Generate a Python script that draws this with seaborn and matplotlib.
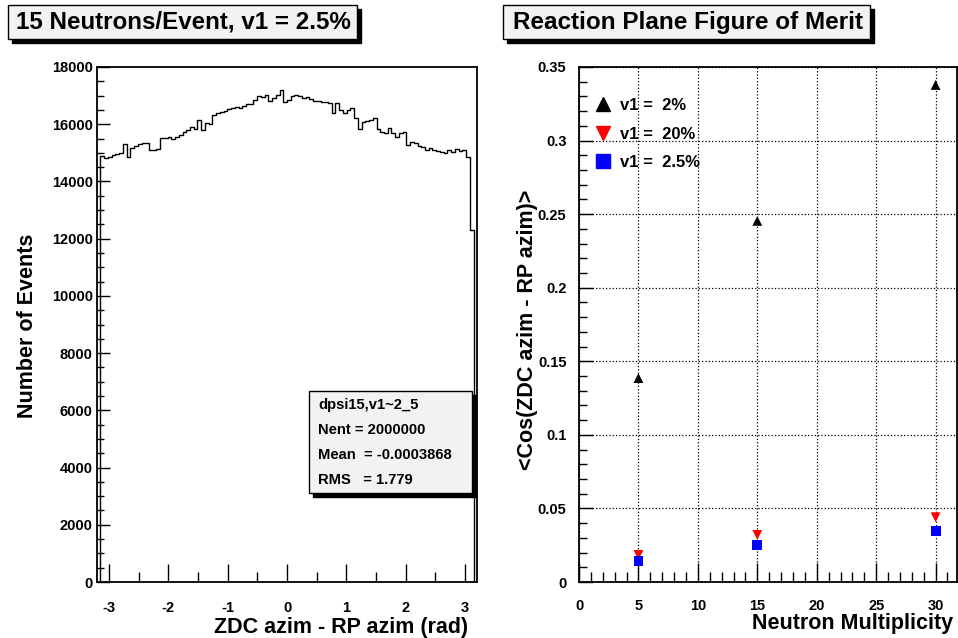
import numpy as np
import pandas as pd
import matplotlib
matplotlib.use("Agg")
import matplotlib.pyplot as plt
from matplotlib.patches import Rectangle
from matplotlib.lines import Line2D
from matplotlib.ticker import MultipleLocator, FuncFormatter
import seaborn as sns

# left pad: 100 bins over -pi..pi, contents
counts = [14890, 14810, 14850, 14920, 14950, 15000, 15310, 14850, 15170, 15250,
          15310, 15360, 15340, 15100, 15100, 15120, 15510, 15520, 15560, 15500,
          15560, 15620, 15740, 15800, 15910, 15820, 16150, 15800, 16030, 16020,
          16320, 16380, 16430, 16460, 16540, 16570, 16610, 16580, 16640, 16700,
          16690, 16850, 17000, 16940, 17020, 16820, 16900, 17020, 17190, 16790,
          16850, 16990, 17030, 16990, 16900, 16950, 16870, 16820, 16800, 16780,
          16760, 16740, 16380, 16740, 16500, 16380, 16500, 16560, 16210, 15820,
          16090, 16120, 16150, 16210, 15820, 15740, 15680, 15860, 15680, 15560,
          15680, 15720, 15270, 15390, 15330, 15250, 15220, 15100, 15160, 15100,
          15060, 15040, 14980, 15100, 15040, 15120, 15080, 15100, 14870, 12300]
stats_lines = ["dpsi15,v1~2_5", "Nent = 2000000", "Mean  = -0.0003868", "RMS   = 1.779"]

# right pad: figure of merit vs neutron multiplicity
mult = [5, 15, 30]
fom_v1_2 = [0.1386, 0.2454, 0.3378]
fom_v1_20 = [0.0184, 0.0320, 0.0440]
fom_v1_25 = [0.0143, 0.0252, 0.0347]
series_labels = ["v1 =  2%", "v1 =  20%", "v1 =  2.5%"]

sns.set_theme(style="white", rc={"axes.edgecolor": "black", "xtick.color": "black",
                                 "ytick.color": "black", "text.color": "black",
                                 "axes.unicode_minus": False})
plt.rcParams['font.family'] = ['Liberation Sans', 'DejaVu Sans']
plt.rcParams['font.weight'] = 'bold'

W, H = 958, 638
fig = plt.figure(figsize=(W / 100, H / 100), dpi=100)


def rect(x0, y0, x1, y1):
    # pixel box (y from top) -> figure fraction [l, b, w, h]
    return [x0 / W, 1 - y1 / H, (x1 - x0) / W, (y1 - y0) / H]


def fx(x):
    return x / W


def fy(y):
    return 1 - y / H


def shadow_box(x0, y0, x1, y1, off=4):
    fig.patches.append(Rectangle((fx(x0 + off), fy(y1 + off)), (x1 - x0) / W, (y1 - y0) / H,
                                 transform=fig.transFigure, facecolor='black', edgecolor='black', zorder=5))
    fig.patches.append(Rectangle((fx(x0), fy(y1)), (x1 - x0) / W, (y1 - y0) / H,
                                 transform=fig.transFigure, facecolor='#f2f2f2', edgecolor='black',
                                 linewidth=1, zorder=6))


ax1 = fig.add_axes(rect(97, 67, 477, 582))
ax2 = fig.add_axes(rect(579, 67, 957, 582))

# ---- left: histogram
n_bins = len(counts)
edges = np.linspace(-np.pi, np.pi, n_bins + 1)
centers = 0.5 * (edges[:-1] + edges[1:])
hist_df = pd.DataFrame({'phi': centers, 'n': counts})
sns.histplot(data=hist_df, x='phi', weights='n', bins=n_bins, binrange=(-np.pi, np.pi),
             element='step', fill=False, color='black', linewidth=1, ax=ax1)
ax1.vlines([edges[0], edges[-1]], 0, [counts[0], counts[-1]], color='black', linewidth=1)
ax1.set_xlim(-3.2, 3.2)
ax1.set_ylim(0, 18000)
ax1.set_xlabel('')
ax1.set_ylabel('')
ax1.xaxis.set_major_locator(MultipleLocator(1))
ax1.xaxis.set_minor_locator(MultipleLocator(0.5))
ax1.yaxis.set_major_locator(MultipleLocator(2000))
ax1.yaxis.set_minor_locator(MultipleLocator(500))
ax1.tick_params(which='both', direction='in', top=False, right=False, bottom=True, left=True,
                labelsize=10.5, width=1)
ax1.tick_params(axis='x', which='major', length=13, pad=14)
ax1.tick_params(axis='x', which='minor', length=7)
ax1.tick_params(axis='y', which='major', length=9, pad=3)
ax1.tick_params(axis='y', which='minor', length=5)

# ---- right: figure of merit
fom = pd.DataFrame({'mult': mult * 3,
                    'fom': fom_v1_2 + fom_v1_20 + fom_v1_25,
                    'series': [series_labels[0]] * 3 + [series_labels[1]] * 3 + [series_labels[2]] * 3})
markers = {series_labels[0]: '^', series_labels[1]: 'v', series_labels[2]: 's'}
palette = {series_labels[0]: 'black', series_labels[1]: 'red', series_labels[2]: 'blue'}
sns.scatterplot(data=fom, x='mult', y='fom', hue='series', style='series', markers=markers,
                palette=palette, s=50, linewidth=0, legend=False, ax=ax2, zorder=3)
ax2.set_xlim(0, 31.8)
ax2.set_ylim(0, 0.35)
ax2.set_xlabel('')
ax2.set_ylabel('')
ax2.xaxis.set_major_locator(MultipleLocator(5))
ax2.xaxis.set_minor_locator(MultipleLocator(1))
ax2.yaxis.set_major_locator(MultipleLocator(0.05))
ax2.yaxis.set_minor_locator(MultipleLocator(0.01))
ax2.yaxis.set_major_formatter(FuncFormatter(lambda v, p: '%g' % round(v, 4)))
ax2.tick_params(which='both', direction='in', top=False, right=False, bottom=True, left=True,
                labelsize=10.5, width=1)
ax2.tick_params(axis='x', which='major', length=14, pad=12)
ax2.tick_params(axis='x', which='minor', length=7)
ax2.tick_params(axis='y', which='major', length=10, pad=9)
ax2.tick_params(axis='y', which='minor', length=6)
ax2.grid(True, which='major', linestyle=':', color='black', linewidth=0.9)
ax2.set_axisbelow(True)

handles = [Line2D([], [], linestyle='', marker=markers[s], color=palette[s], markersize=10)
           for s in series_labels]
ax2.legend(handles, series_labels, loc='upper left', bbox_to_anchor=(fx(596), fy(98)),
           bbox_transform=fig.transFigure, frameon=False, handlelength=0.85, handletextpad=0.6,
           labelspacing=0.82, borderpad=0, borderaxespad=0, prop={'size': 12, 'weight': 'bold'})

for ax in (ax1, ax2):
    for sp in ax.spines.values():
        sp.set_color('black')
        sp.set_linewidth(1.3)

# ---- titles, stats box, axis titles
shadow_box(8, 5, 357, 39)
fig.text(fx(183), fy(22), "15 Neutrons/Event, v1 = 2.5%", ha='center', va='center',
         fontsize=17.4, fontweight='bold', zorder=7)
shadow_box(503, 5, 870, 39)
fig.text(fx(688), fy(22), "Reaction Plane Figure of Merit", ha='center', va='center',
         fontsize=17.5, fontweight='bold', zorder=7)

shadow_box(309, 391, 472, 493)
for i, line in enumerate(stats_lines):
    fig.text(fx(318), fy(405 + 25 * i), line, ha='left', va='center', fontsize=10.6,
             fontweight='bold', zorder=7)

fig.text(fx(468), fy(628), "ZDC azim - RP azim (rad)", ha='right', va='center',
         fontsize=15.5, fontweight='bold')
fig.text(fx(28), fy(326), "Number of Events", ha='center', va='center', rotation=90,
         fontsize=15.5, fontweight='bold')
fig.text(fx(953), fy(624), "Neutron Multiplicity", ha='right', va='center',
         fontsize=15.5, fontweight='bold')
fig.text(fx(527), fy(330), "<Cos(ZDC azim - RP azim)>", ha='center', va='center', rotation=90,
         fontsize=15.5, fontweight='bold')

fig.savefig('out.png', dpi=100, facecolor='white')
